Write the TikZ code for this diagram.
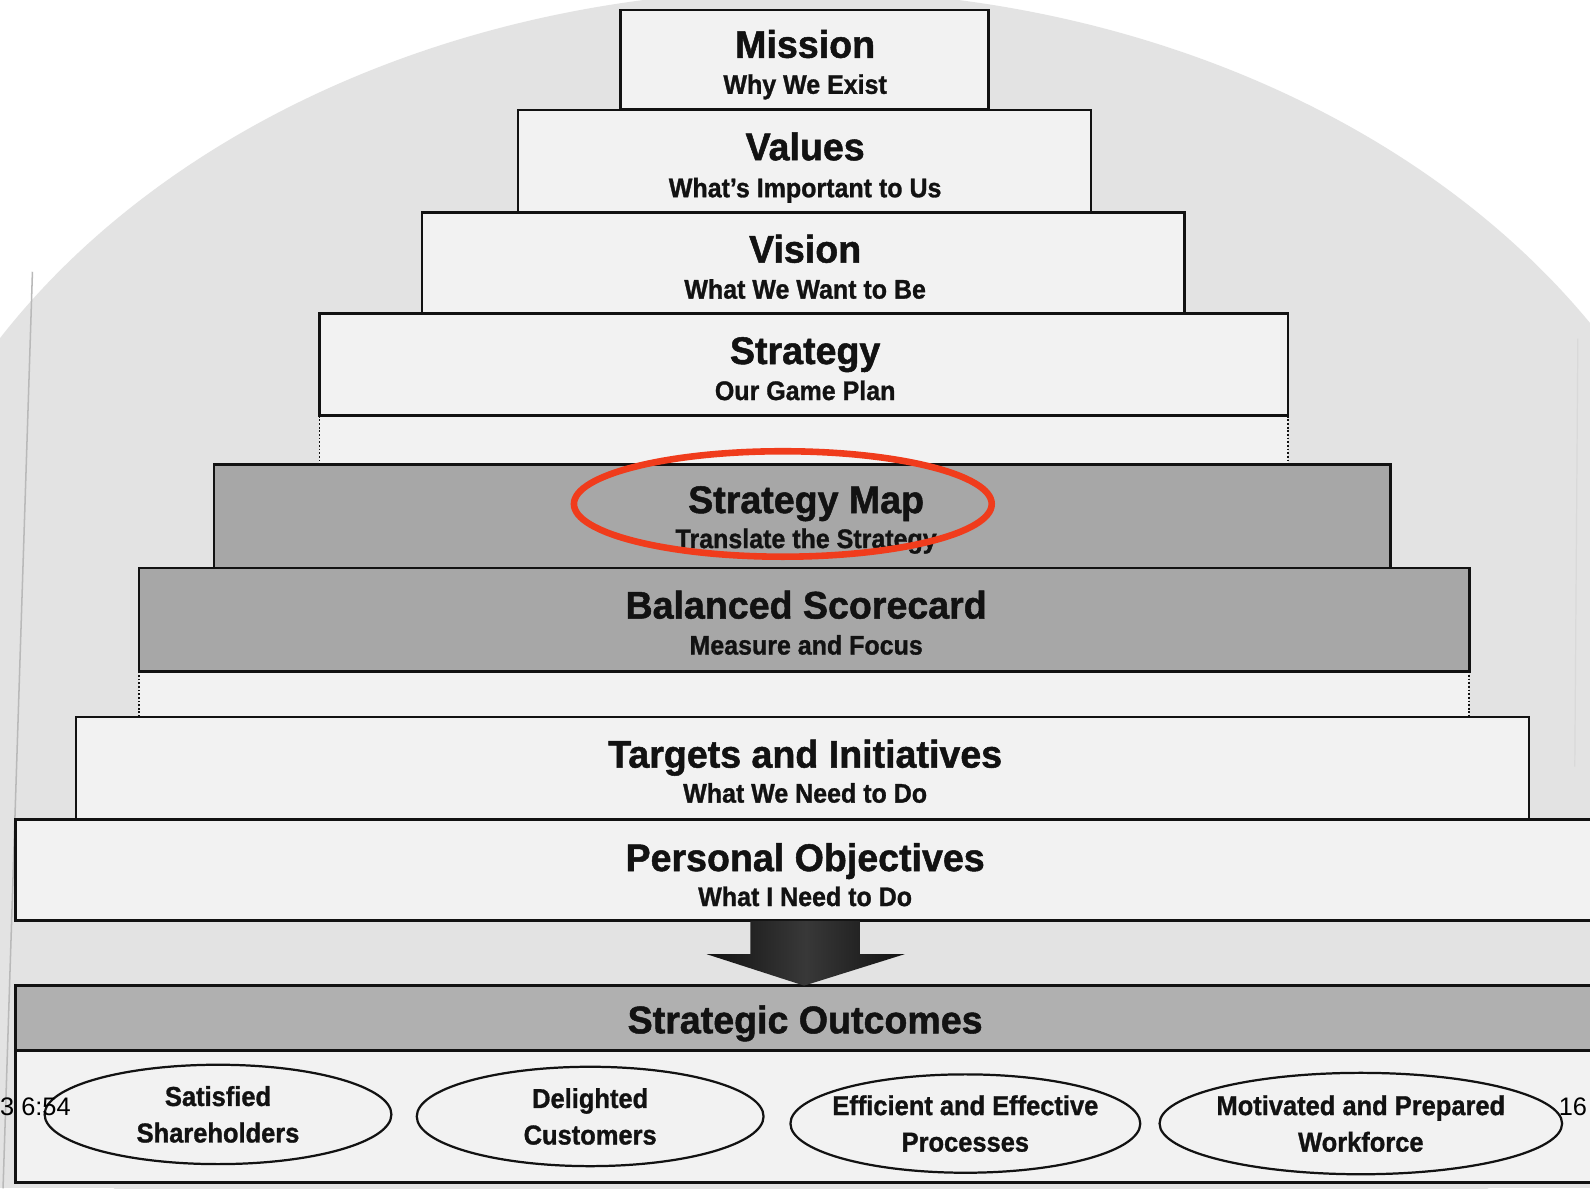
\documentclass[tikz,border=0pt]{standalone}
\usepackage{fontspec}
\setmainfont{Liberation Sans}
\newfontfamily\headfont{Liberation Sans}[FakeStretch=0.975,FakeBold=1.3]
\newfontfamily\subfont{Liberation Sans}[FakeStretch=0.93,FakeBold=1.1]
\usetikzlibrary{shapes.geometric,backgrounds}

\definecolor{page}{gray}{0.89}
\definecolor{paper}{gray}{0.948}
\definecolor{shade}{gray}{0.655}
\definecolor{band}{gray}{0.69}
\definecolor{ink}{gray}{0.07}
\definecolor{marker}{RGB}{240,60,28}

\begin{document}
\begin{tikzpicture}[x=1pt,y=-1pt,
  tier/.style={draw=ink, line width=2.6pt, fill=paper, inner sep=0pt, outer sep=0pt},
  darktier/.style={tier, fill=shade},
  head/.style={font=\headfont\bfseries\fontsize{38}{40}\selectfont, text=ink, anchor=base, inner sep=0pt},
  subhead/.style={font=\subfont\bfseries\fontsize{26.5}{28}\selectfont, text=ink, anchor=base, inner sep=0pt},
  goal/.style={ellipse, draw=ink, line width=2.2pt, fill=paper, align=center,
    inner xsep=-18pt, inner ysep=0pt,
    text=ink, font=\subfont\bfseries\fontsize{27}{36}\selectfont},
  guide/.style={draw=ink, line width=1.8pt, dash pattern=on 1.8pt off 1.8pt},
  stray/.style={font=\fontsize{25}{25}\selectfont, text=black, inner sep=0pt}]

\useasboundingbox (0,0) rectangle (1568,1172);
\clip (0,0) rectangle (1568,1172);

% sheet of paper with its arched top edge
\begin{scope}[on background layer]
  \fill[white] (0,0) rectangle (1568,1172);
  \fill[page] (790,695) ellipse [x radius=920pt, y radius=705pt];
  \fill[page] (0,695) rectangle (1568,1172);
  \draw[gray!55, line width=1.5pt] (32,268) -- (3,1172);
  \draw[gray!30, line width=1.2pt] (1556,334) -- (1553,756);
\end{scope}

% the tiers of the pyramid
\node[tier, minimum width=363pt, minimum height=98pt]  (mission)   at (793.5,59)  {};
\node[tier, minimum width=565pt, minimum height=101pt] (values)    at (793.5,159) {};
\node[tier, minimum width=752pt, minimum height=100pt] (vision)    at (792,259.5) {};
\node[tier, minimum width=955pt, minimum height=101pt] (strategy)  at (792.5,359.5) {};
\node[darktier, minimum width=1160pt, minimum height=102pt] (map)  at (791,509) {};
\node[darktier, minimum width=1312pt, minimum height=102pt] (scorecard) at (793,611) {};
\node[tier, minimum width=1433pt, minimum height=101pt] (targets)   at (791.5,757.5) {};
\node[tier, minimum width=1585pt, minimum height=100pt] (personal)  at (807.5,858) {};
\node[tier, fill=band, minimum width=1585pt, minimum height=64pt] (outcomes) at (807.5,1004) {};
\node[tier, minimum width=1585pt, minimum height=130pt] (results)   at (807.5,1101) {};

% open gaps bounded by dotted guides
\begin{scope}[on background layer]
  \fill[paper] (strategy.south west) rectangle (map.north -| strategy.south east);
  \fill[paper] (scorecard.south west) rectangle (targets.north -| scorecard.south east);
\end{scope}
\draw[guide] (strategy.south west) -- (strategy.south west |- map.north);
\draw[guide] (strategy.south east) -- (strategy.south east |- map.north);
\draw[guide] (scorecard.south west) -- (scorecard.south west |- targets.north);
\draw[guide] (scorecard.south east) -- (scorecard.south east |- targets.north);

% tier labels
\node[head]    (missionT)  at (794,57)    {Mission};
\node[subhead] (missionS)  at (794,92.5)  {Why We Exist};
\node[head]    (valuesT)   at (794,158)   {Values};
\node[subhead] (valuesS)   at (794,194.5) {What’s Important to Us};
\node[head]    (visionT)   at (794,259)   {Vision};
\node[subhead] (visionS)   at (794,294.5) {What We Want to Be};
\node[head]    (strategyT) at (794,359)   {Strategy};
\node[subhead] (strategyS) at (794,394.5) {Our Game Plan};
\node[head]    (mapT)      at (795,506)   {Strategy Map};
\node[subhead] (mapS)      at (795,540.5) {Translate the Strategy};
\node[head]    (cardT)     at (795,610)   {Balanced Scorecard};
\node[subhead] (cardS)     at (795,645.5) {Measure and Focus};
\node[head]    (targetsT)  at (794,757)   {Targets and Initiatives};
\node[subhead] (targetsS)  at (794,791.5) {What We Need to Do};
\node[head]    (personalT) at (794,859)   {Personal Objectives};
\node[subhead] (personalS) at (794,893.5) {What I Need to Do};
\node[head]    (outcomesT) at (794,1019)  {Strategic Outcomes};

% block arrow from the personal tier down to the outcomes
\coordinate (dropTop) at (personal.south -| 794,0);
\coordinate (dropTip) at (outcomes.north -| 793,0);
\path[left color=ink, right color=ink, middle color=black!78]
  ([xshift=-54pt]dropTop) -- ([xshift=54pt]dropTop) -- ([xshift=54pt,yshift=-33pt]dropTop)
  -- ([xshift=98pt,yshift=-33pt]dropTop) -- (dropTip)
  -- ([xshift=-97pt,yshift=-33pt]dropTop) -- ([xshift=-54pt,yshift=-33pt]dropTop) -- cycle;

% the four outcomes
\node[goal, minimum width=342pt, minimum height=98pt]  (shareholders) at (215,1099)  {Satisfied\\Shareholders};
\node[goal, minimum width=342pt, minimum height=98pt]  (customers)    at (582,1101)  {Delighted\\Customers};
\node[goal, minimum width=345pt, minimum height=97pt]  (processes)    at (952,1108)  {Efficient and Effective\\Processes};
\node[goal, minimum width=397pt, minimum height=100pt] (workforce)    at (1342,1108) {Motivated and Prepared\\Workforce};

% red highlight round the strategy map
\node[ellipse, draw=marker, line width=6.5pt, inner sep=0pt,
      minimum width=412pt, minimum height=104pt] (focus) at (772,497) {};

% margin marks
\node[stray, anchor=base west] (clock) at (0,1100)    {3 6:54};
\node[stray, anchor=base west] (folio) at (1537,1100) {16};
\end{tikzpicture}
\end{document}
